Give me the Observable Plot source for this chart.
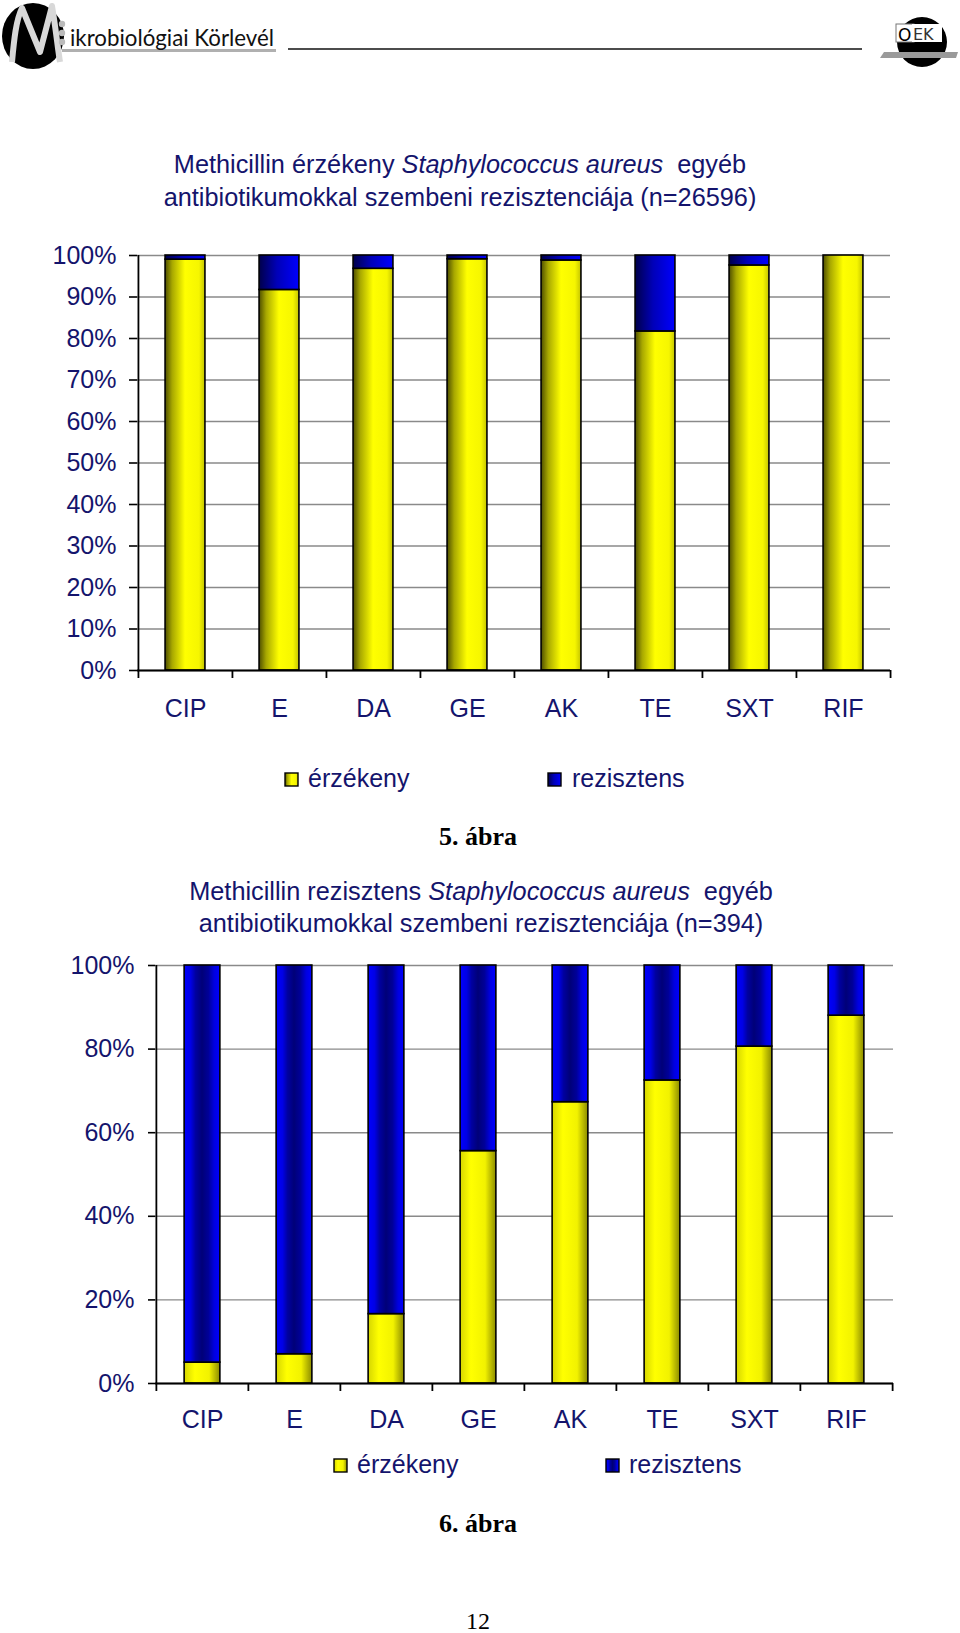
<!DOCTYPE html>
<html>
<head>
<meta charset="utf-8">
<script src="https://cdn.jsdelivr.net/npm/d3@7"></script>
<script src="https://cdn.jsdelivr.net/npm/@observablehq/plot@0.6"></script>
<style>
  html, body { margin: 0; padding: 0; background: #ffffff; }
  #page { position: relative; width: 960px; height: 1633px; overflow: hidden; background: #fff;
          font-family: "Liberation Sans", Arial, sans-serif; color: #14146c; }
  .t { position: absolute; white-space: nowrap; line-height: 1; }
  .plot { position: absolute; left: 0; }
  .sw { position: absolute; }
</style>
</head>
<body>
<svg width="0" height="0" style="position:absolute">
  <defs>
    <linearGradient id="yel1" x1="0" y1="0" x2="1" y2="0">
      <stop offset="0" stop-color="#4e4e00"/>
      <stop offset="0.18" stop-color="#a8a800"/>
      <stop offset="0.5" stop-color="#ffff00"/>
      <stop offset="0.85" stop-color="#f6f600"/>
      <stop offset="1" stop-color="#c4c400"/>
    </linearGradient>
    <linearGradient id="blu1" x1="0" y1="0" x2="1" y2="0">
      <stop offset="0" stop-color="#00004a"/>
      <stop offset="0.45" stop-color="#0000b8"/>
      <stop offset="1" stop-color="#0000ff"/>
    </linearGradient>
    <linearGradient id="yel2" x1="0" y1="0" x2="1" y2="0">
      <stop offset="0" stop-color="#d6d600"/>
      <stop offset="0.3" stop-color="#ffff00"/>
      <stop offset="0.7" stop-color="#f2f200"/>
      <stop offset="1" stop-color="#8c8c00"/>
    </linearGradient>
    <linearGradient id="blu2" x1="0" y1="0" x2="1" y2="0">
      <stop offset="0" stop-color="#0000ff"/>
      <stop offset="0.18" stop-color="#0000e6"/>
      <stop offset="0.32" stop-color="#0000a0"/>
      <stop offset="0.5" stop-color="#000078"/>
      <stop offset="0.68" stop-color="#000098"/>
      <stop offset="0.84" stop-color="#0000e0"/>
      <stop offset="1" stop-color="#0000ff"/>
    </linearGradient>
  </defs>
</svg>
<div id="page">
  <!-- page header decoration -->
  <svg style="position:absolute;left:0;top:0" width="960" height="80">
    <ellipse cx="33" cy="36" rx="31" ry="33" fill="#000"/>
    <path d="M12,62 C14,40 16,20 22,8 L40,52 L52,6 C56,30 58,50 60,62" fill="none" stroke="#d8d8d8" stroke-width="6" stroke-linejoin="round"/>
    <circle cx="62" cy="24" r="3.2" fill="#bbb"/>
    <circle cx="62" cy="33" r="3.2" fill="#bbb"/>
    <circle cx="62" cy="42" r="3.2" fill="#bbb"/>
    <rect x="62" y="49" width="214" height="3" fill="#b0b0b0"/>
    <text x="70" y="46" font-family="Lato, 'DejaVu Sans', sans-serif" font-size="23" textLength="204" lengthAdjust="spacingAndGlyphs" fill="#111">ikrobiológiai Körlevél</text>
    <line x1="288" y1="49" x2="862" y2="49" stroke="#111" stroke-width="1.6"/>
    <circle cx="922" cy="42" r="25" fill="#000"/>
    <rect x="896" y="24" width="18" height="18" fill="#fff" stroke="#777" stroke-width="1"/>
    <text x="898" y="41" font-family="'DejaVu Sans', sans-serif" font-size="17" fill="#000">O</text>
    <rect x="912" y="24" width="30" height="18" fill="#fff"/>
    <text x="913" y="40" font-family="'DejaVu Sans', sans-serif" font-size="16" fill="#333">EK</text>
    <polygon points="884,52 958,52 956,58 880,58" fill="#9a9a9a"/>
  </svg>
</div>
<script>
// ---------- data ----------
const categories = ["CIP", "E", "DA", "GE", "AK", "TE", "SXT", "RIF"];
const seriesNames = ["érzékeny", "rezisztens"];

// Figure 5: MSSA (n=26596), percent
const mssaErzekeny   = [99.0, 91.7, 96.8, 99.1, 98.8, 81.7, 97.6, 100.0];
const mssaRezisztens = [ 1.0,  8.3,  3.2,  0.9,  1.2, 18.3,  2.4,   0.0];

// Figure 6: MRSA (n=394), percent
const mrsaErzekeny   = [ 5.0,  7.0, 16.6, 55.6, 67.3, 72.5, 80.6, 88.0];
const mrsaRezisztens = [95.0, 93.0, 83.4, 44.4, 32.7, 27.5, 19.4, 12.0];

const yTicks1 = [0, 10, 20, 30, 40, 50, 60, 70, 80, 90, 100];
const yTicks2 = [0, 20, 40, 60, 80, 100];

const title1a = 'Methicillin érzékeny <i>Staphylococcus aureus</i>&nbsp; egyéb';
const title1b = 'antibiotikumokkal szembeni rezisztenciája (n=26596)';
const title2a = 'Methicillin rezisztens <i>Staphylococcus aureus</i>&nbsp; egyéb';
const title2b = 'antibiotikumokkal szembeni rezisztenciája (n=394)';
const caption1 = '5. ábra';
const caption2 = '6. ábra';
const pageNumber = '12';

// ---------- helpers ----------
const NAVY = "#14146c";
const page = document.getElementById("page");

function placeText(html, x, baseline, {size = 25, anchor = "middle", family = '"Liberation Sans", Arial, sans-serif', weight = "normal", color = NAVY, ascentK = 0.8465} = {}) {
  const d = document.createElement("div");
  d.className = "t";
  d.innerHTML = html;
  d.style.fontSize = size + "px";
  d.style.fontFamily = family;
  d.style.fontWeight = weight;
  d.style.color = color;
  d.style.top = (baseline - ascentK * size) + "px";
  d.style.left = x + "px";
  if (anchor === "middle") d.style.transform = "translateX(-50%)";
  page.appendChild(d);
}

function swatch(x, y, fill) {
  const ns = "http://www.w3.org/2000/svg";
  const s = document.createElementNS(ns, "svg");
  s.setAttribute("class", "sw");
  s.setAttribute("width", 16); s.setAttribute("height", 16);
  s.style.left = (x - 1) + "px"; s.style.top = (y - 1) + "px";
  const r = document.createElementNS(ns, "rect");
  r.setAttribute("x", 1); r.setAttribute("y", 1); r.setAttribute("width", 13); r.setAttribute("height", 13);
  r.setAttribute("fill", fill); r.setAttribute("stroke", "#000"); r.setAttribute("stroke-width", 1.4);
  s.appendChild(r);
  page.appendChild(s);
}

function stackedChart({erz, rez, ticks, top, height, ml, mr, mt, mb, barW, tickSize, tickPad, xPad, fills}) {
  const width = 960;
  const rows = [];
  categories.forEach((c, i) => {
    rows.push({cat: c, series: seriesNames[0], value: erz[i]});
    if (rez[i] > 0) rows.push({cat: c, series: seriesNames[1], value: rez[i]});
  });
  const step = (width - ml - mr) / categories.length;
  const inset = (step - barW) / 2;
  const chart = Plot.plot({
    width, height,
    marginLeft: ml, marginRight: mr, marginTop: mt, marginBottom: mb,
    style: {fontFamily: '"Liberation Sans", Arial, sans-serif', fontSize: "25px", background: "transparent", overflow: "visible"},
    x: {domain: categories, padding: 0, label: null},
    y: {domain: [0, 100], label: null},
    color: {domain: seriesNames, range: fills},
    marks: [
      Plot.ruleY(ticks, {stroke: "#8a8a8a", strokeWidth: 1.4}),
      Plot.barY(rows, Plot.stackY({x: "cat", y: "value", fill: "series", stroke: "#000", strokeWidth: 1.6, insetLeft: inset, insetRight: inset})),
      Plot.ruleY([0], {stroke: "#000", strokeWidth: 1.8}),
      Plot.ruleX([categories[0]], {x: d => d, dx: -step / 2, y1: 0, y2: 100, stroke: "#000", strokeWidth: 1.8}),
      Plot.ruleX(categories, {x: d => d, dx: -step / 2, y1: 0, y2: 0, insetBottom: -8, stroke: "#000", strokeWidth: 1.8}),
      Plot.ruleX([categories[categories.length - 1]], {x: d => d, dx: step / 2, y1: 0, y2: 0, insetBottom: -8, stroke: "#000", strokeWidth: 1.8}),
      Plot.axisY({ticks, tickSize, tickPadding: tickPad, tickFormat: d => d + "%", stroke: "#000", strokeWidth: 1.6, fill: NAVY}),
      Plot.axisX({tickSize: 0, tickPadding: xPad, fill: NAVY})
    ]
  });
  chart.classList.add("plot");
  chart.style.top = top + "px";
  page.appendChild(chart);
}

// ---------- figure 5 ----------
placeText(title1a, 460, 173, {size: 25.3});
placeText(title1b, 460, 206, {size: 25.3});
stackedChart({erz: mssaErzekeny, rez: mssaRezisztens, ticks: yTicks1, top: 200, height: 530,
  ml: 137, mr: 70, mt: 55, mb: 60, barW: 40, tickSize: 8, tickPad: 13, xPad: 29,
  fills: ["url(#yel1)", "url(#blu1)"]});
swatch(285, 773, "url(#yel1)");
placeText(seriesNames[0], 308, 787, {anchor: "start"});
swatch(548, 773, "url(#blu1)");
placeText(seriesNames[1], 572, 787, {anchor: "start"});
placeText(caption1, 478, 846, {size: 26, weight: "bold", family: '"Liberation Serif", "Times New Roman", serif', color: "#000", ascentK: 0.8375});

// ---------- figure 6 ----------
placeText(title2a, 481, 900, {size: 25.3});
placeText(title2b, 481, 932, {size: 25.3});
stackedChart({erz: mrsaErzekeny, rez: mrsaRezisztens, ticks: yTicks2, top: 940, height: 500,
  ml: 155, mr: 67, mt: 25, mb: 57, barW: 36, tickSize: 7, tickPad: 14, xPad: 27,
  fills: ["url(#yel2)", "url(#blu2)"]});
swatch(334, 1459, "url(#yel2)");
placeText(seriesNames[0], 357, 1473, {anchor: "start"});
swatch(606, 1459, "url(#blu2)");
placeText(seriesNames[1], 629, 1473, {anchor: "start"});
placeText(caption2, 478, 1533, {size: 26, weight: "bold", family: '"Liberation Serif", "Times New Roman", serif', color: "#000", ascentK: 0.8375});
placeText(pageNumber, 478, 1629, {size: 24, family: '"Liberation Serif", "Times New Roman", serif', color: "#000", ascentK: 0.8375});
</script>
</body>
</html>
